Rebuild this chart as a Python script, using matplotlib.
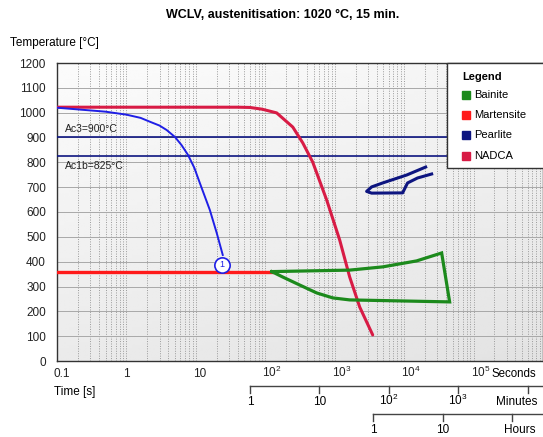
import numpy as np
import matplotlib
matplotlib.use('Agg')
import matplotlib.pyplot as plt
import matplotlib.transforms as mtransforms
from matplotlib.ticker import LogLocator, NullFormatter
from matplotlib.patches import Rectangle

plt.rcParams['font.family'] = ['Liberation Sans', 'DejaVu Sans']
plt.rcParams['mathtext.fontset'] = 'custom'
plt.rcParams['mathtext.rm'] = 'Liberation Sans'
plt.rcParams['mathtext.default'] = 'regular'

# cooling curve 1 (time s, temperature C)
cool_t = [0.1, 0.5, 1.0, 1.6, 2.2, 3.0, 3.8, 5.0, 6.2, 7.7, 9.5, 11.4, 15.9, 20.0, 24.4]
cool_T = [1020, 1004, 992, 979, 963, 948, 930, 902, 870, 830, 778, 717, 608, 515, 427]
cool_mark = (23.7, 387)

# NADCA reference curve
nadca_t = [0.1, 40, 60, 90, 146, 249, 347, 482, 767, 1180, 1644, 2293, 3525]
nadca_T = [1022, 1022, 1021, 1014, 999, 942, 878, 801, 648, 487, 338, 217, 105]

# martensite start line
mart_t = [0.1, 124]
mart_T = [360, 360]

# bainite region (upper branch, right edge, lower branch back)
bain_t = [124, 1644, 4910, 15100, 34700, 45200, 1644, 941, 551, 313, 179, 124]
bain_T = [360, 366, 379, 403, 435, 238, 246, 254, 274, 306, 338, 360]

# pearlite nose
pearl_t = [20400, 10900, 4910, 3400, 2880, 3400, 9500, 11200, 15600, 24900]
pearl_T = [781, 749, 717, 701, 683, 676, 677, 717, 737, 753]

ac3 = 900
ac1b = 825

sec_ticks = [0.1, 1, 10, 100, 1000, 10000, 100000]
sec_labels = ['0.1', '1', '10', '$10^2$', '$10^3$', '$10^4$', '$10^5$']
min_ticks = [1, 10, 100, 1000, 10000]
min_labels = ['1', '10', '$10^2$', '$10^3$']
hour_ticks = [1, 10, 100]
hour_labels = ['1', '10']

legend_names = ['Bainite', 'Martensite', 'Pearlite', 'NADCA']
legend_colors = ['#1c8a1c', '#ff1a1a', '#0d1580', '#d81b45']

fig = plt.figure(figsize=(5.43, 4.37), dpi=100)
pos = [57 / 543, 76 / 437, 486 / 543, 298 / 437]

# gradient background
bg = fig.add_axes(pos, zorder=0)
yy, xx = np.mgrid[0:1:100j, 0:1:100j]
grad = 0.985 - 0.065 * yy - 0.03 * xx
bg.imshow(grad, cmap='gray', vmin=0, vmax=1, aspect='auto', extent=[0, 1, 0, 1])
bg.set_axis_off()

ax = fig.add_axes(pos, zorder=1)
ax.patch.set_alpha(0)
ax.set_xscale('log')
ax.set_xlim(0.1, 1e6)
ax.set_ylim(0, 1200)

# grid
ax.set_yticks(range(0, 1201, 100))
ax.xaxis.set_minor_locator(LogLocator(base=10, subs=np.arange(2, 10)))
ax.xaxis.set_minor_formatter(NullFormatter())
ax.grid(axis='y', color='#a8a8a8', lw=0.7)
ax.grid(axis='x', which='both', color='#9a9a9a', lw=0.7, ls=(0, (1, 1.5)))
ax.set_axisbelow(True)

ax.set_xticks(sec_ticks)
ax.set_xticklabels(sec_labels)
ax.tick_params(axis='both', which='both', length=0, labelsize=8.5, colors='#222222')
ax.tick_params(axis='x', pad=6)
ax.tick_params(axis='y', pad=8)
shift = mtransforms.ScaledTranslation(-3 / 100, -8 / 100, fig.dpi_scale_trans)
for lab in ax.get_xticklabels():
    lab.set_horizontalalignment('left')
    lab.set_verticalalignment('baseline')
    lab.set_transform(lab.get_transform() + shift)

for sp in ax.spines.values():
    sp.set_color('#333333')
    sp.set_linewidth(1.0)

# transformation lines
ax.axhline(ac3, color='#0d1580', lw=1.2, zorder=3)
ax.axhline(ac1b, color='#0d1580', lw=1.2, zorder=3)
ax.text(0.13, 934, 'Ac3=900°C', fontsize=7.5, color='#222222', va='center')
ax.text(0.13, 785, 'Ac1b=825°C', fontsize=7.5, color='#222222', va='center')

ax.plot(nadca_t, nadca_T, color='#d81b45', lw=2.2, solid_capstyle='round', zorder=4)
ax.plot(mart_t, mart_T, color='#ff1a1a', lw=2.4, zorder=4)
ax.plot(bain_t, bain_T, color='#1c8a1c', lw=2.3, solid_joinstyle='miter', zorder=4)
ax.plot(pearl_t, pearl_T, color='#0d1580', lw=2.2, zorder=4)
ax.plot(cool_t, cool_T, color='#1f1fe6', lw=1.4, zorder=5)
ax.plot(*cool_mark, marker='o', ms=11, mfc='white', mec='#1f1fe6', mew=1.2, zorder=6)
ax.text(*cool_mark, '1', fontsize=6.5, color='#1f1fe6', ha='center', va='center', zorder=7)

# legend box
ax.add_patch(Rectangle((0.802, 0.648), 0.25, 0.352, transform=ax.transAxes,
                       facecolor='white', edgecolor='#333333', lw=1.0,
                       clip_on=False, zorder=8))
ax.text(0.833, 0.953, 'Legend', transform=ax.transAxes, fontsize=8,
        fontweight='bold', va='center', zorder=9)
for i, (name, col) in enumerate(zip(legend_names, legend_colors)):
    yl = 0.893 - i * 0.068
    ax.plot(0.841, yl, marker='s', ms=5.5, color=col, transform=ax.transAxes,
            clip_on=False, zorder=9)
    ax.text(0.858, yl, name, transform=ax.transAxes, fontsize=8,
            va='center', zorder=9)

# axis texts
fig.text(0.521, 0.966, 'WCLV, austenitisation: 1020 °C, 15 min.', ha='center',
         va='center', fontsize=9, fontweight='bold')
fig.text(0.018, 0.902, 'Temperature [°C]', ha='left', va='center', fontsize=8.5)
ax.text(-0.006, -0.104, 'Time [s]', transform=ax.transAxes, ha='left',
        va='center', fontsize=8.5)
ax.text(0.895, -0.0537, 'Seconds', transform=ax.transAxes, ha='left',
        va='baseline', fontsize=8.3)

# minutes and hours scales
trans = mtransforms.blended_transform_factory(ax.transData, ax.transAxes)


def _draw_scale(ticks, labels, factor, y_line, y_text, name, name_x):
    secs = [t * factor for t in ticks]
    ax.plot([secs[0], 1e6], [y_line, y_line], color='#444444', lw=1.0,
            transform=trans, clip_on=False)
    for s in secs:
        ax.plot([s, s], [y_line, y_line - 0.022], color='#444444', lw=1.0,
                transform=trans, clip_on=False)
    for s, lab in zip(secs, labels):
        ax.text(s, y_text, lab, transform=trans, ha='center',
                va='baseline', fontsize=8.5)
    ax.text(name_x, y_text, name, transform=ax.transAxes, ha='center',
            va='baseline', fontsize=8.5)


_draw_scale(min_ticks, min_labels, 60, -0.084, -0.148, 'Minutes', 0.9465)
_draw_scale(hour_ticks, hour_labels, 3600, -0.178, -0.243, 'Hours', 0.953)

fig.savefig('out.png', dpi=100)
